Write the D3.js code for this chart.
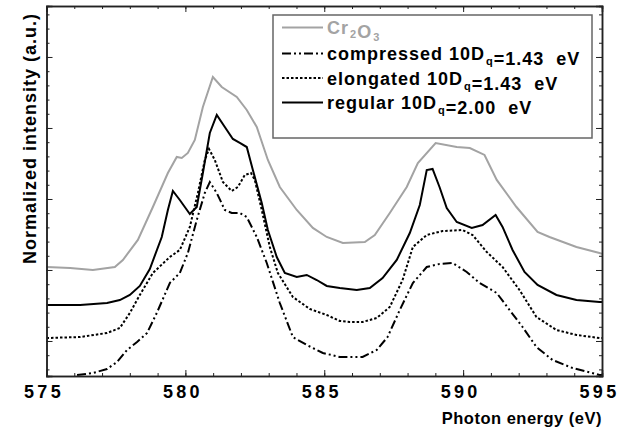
<!DOCTYPE html>
<html>
<head>
<meta charset="utf-8">
<script src="https://cdn.jsdelivr.net/npm/d3@7"></script>
<style>
  body { margin:0; background:#fff; }
  text { font-family:"Liberation Sans", Arial, sans-serif; font-weight:bold; }
</style>
</head>
<body>
<div id="chart"></div>
<script>
const margin = {'top':6,'right':27,'bottom':56,'left':46.5};
const width = 629 - margin.left - margin.right;
const height = 432 - margin.top - margin.bottom;

// photon energy (eV) / normalized intensity
var cr2o3 = [[575.0,1.042],[575.85,1.028],[576.67,1.0],[577.46,1.042],[577.75,1.141],[578.29,1.423],
  [578.83,1.887],[579.37,2.366],[579.69,2.592],[579.87,2.577],[580.09,2.648],[580.34,2.831],[580.63,3.296],
  [580.99,3.718],[581.31,3.577],[581.85,3.437],[582.21,3.254],[582.57,3.014],[582.97,2.549],[583.40,2.169],
  [584.01,1.845],[584.59,1.592],[585.09,1.465],[585.67,1.380],[586.46,1.394],[586.82,1.493],[587.36,1.803],
  [587.97,2.169],[588.37,2.507],[589.01,2.789],[589.77,2.732],[590.24,2.718],[590.77,2.620],[591.21,2.268],
  [591.92,1.887],[592.68,1.535],[593.11,1.465],[594.08,1.324],[594.91,1.239],[595.0,1.23]];
var compressed = [[576.10,-0.479],[576.67,-0.451],[577.18,-0.394],[577.54,-0.296],[577.90,-0.127],[578.26,-0.014],
  [578.62,0.113],[578.97,0.394],[579.44,0.817],[579.80,0.958],[580.09,1.240],[580.41,1.704],[580.70,2.085],
  [580.88,2.239],[581.13,2.085],[581.42,1.845],[581.67,1.803],[581.96,1.803],[582.21,1.746],[582.57,1.465],
  [582.93,1.099],[583.40,0.535],[583.87,0.056],[584.37,-0.056],[584.95,-0.169],[585.56,-0.225],[585.81,-0.225],
  [586.38,-0.225],[586.89,-0.127],[587.28,0.056],[587.72,0.437],[588.19,0.817],[588.69,1.042],[589.15,1.085],
  [589.62,1.099],[590.13,0.972],[590.59,0.817],[591.21,0.676],[591.67,0.437],[592.14,0.197],[592.64,-0.085],
  [593.22,-0.268],[593.94,-0.380],[594.91,-0.479],[595.0,-0.479]];
var elongated = [[575.0,0.042],[576.21,0.056],[577.18,0.113],[577.64,0.183],[578.00,0.394],[578.36,0.648],
  [578.83,0.958],[579.44,1.183],[579.80,1.282],[580.16,1.606],[580.45,2.085],[580.70,2.549],[580.85,2.704],
  [581.06,2.549],[581.35,2.239],[581.67,2.113],[581.89,2.169],[582.14,2.338],[582.36,2.366],[582.50,2.268],
  [582.75,1.845],[583.04,1.324],[583.33,0.958],[583.87,0.620],[584.48,0.451],[585.09,0.366],[585.56,0.282],
  [585.92,0.268],[586.38,0.268],[586.89,0.324],[587.36,0.479],[587.82,0.859],[588.19,1.324],[588.69,1.493],
  [589.26,1.549],[589.98,1.563],[590.34,1.493],[590.85,1.254],[591.42,1.042],[592.03,0.718],[592.64,0.338],
  [593.36,0.155],[594.08,0.085],[594.91,0.042],[595.0,0.042]];
var regular = [[575.0,0.507],[576.21,0.507],[577.18,0.535],[577.64,0.577],[578.00,0.648],[578.36,0.775],
  [578.72,1.014],[579.15,1.465],[579.37,1.845],[579.55,2.113],[579.80,1.986],[580.16,1.789],[580.41,1.887],
  [580.63,2.366],[580.88,2.930],[581.13,3.183],[581.42,3.014],[581.71,2.845],[581.96,2.789],[582.21,2.732],
  [582.43,2.408],[582.75,1.944],[582.97,1.563],[583.29,1.183],[583.58,0.958],[584.01,0.901],[584.37,0.930],
  [584.73,0.859],[585.09,0.775],[585.56,0.746],[586.17,0.718],[586.64,0.746],[587.10,0.887],[587.61,1.141],
  [588.08,1.521],[588.44,1.915],[588.69,2.408],[588.90,2.423],[589.15,2.169],[589.41,1.873],[589.77,1.676],
  [590.31,1.592],[590.70,1.634],[591.17,1.775],[591.42,1.606],[591.78,1.282],[592.21,0.972],[592.68,0.789],
  [593.36,0.648],[594.08,0.577],[594.91,0.549],[595.0,0.549]];

var xMajor = [575,580,585,590,595];
var xMinor = d3.range(575,596,1);
var yMajor = [0,1,2,3,4];
var yMinor = d3.range(-0.4,4.7,0.2);

var series = [
  {'name':'cr','data':cr2o3,'color':'#a3a3a3','dash':null},
  {'name':'compressed','data':compressed,'color':'#000','dash':'9,3,2,3,2,3'},
  {'name':'elongated','data':elongated,'color':'#000','dash':'2.5,2'},
  {'name':'regular','data':regular,'color':'#000','dash':null}
];

var svg = d3.select('#chart')
  .append('svg')
  .attr('width',629)
  .attr('height',432)
  .append('g')
  .attr('transform',`translate(${margin.left},${margin.top})`);

var x = d3.scaleLinear().domain([575,595]).range([0,width]);
var y = d3.scaleLinear().domain([-0.493,4.718]).range([height,0]);

svg.append('clipPath').attr('id','clip')
  .append('rect').attr('width',width).attr('height',height);

var line = d3.line().x(d => x(d[0])).y(d => y(d[1]));

svg.append('g').attr('clip-path','url(#clip)')
  .selectAll('path')
  .data(series)
  .enter()
  .append('path')
  .attr('d',d => line(d.data))
  .attr('fill','none')
  .attr('stroke',d => d.color)
  .attr('stroke-width',2)
  .attr('stroke-dasharray',d => d.dash);

// frame axes, ticks pointing inward
function tickAxis(axis, vals, size){
  return axis.tickValues(vals).tickSize(-size).tickFormat('');
}
svg.append('g').attr('transform',`translate(0,${height})`).call(tickAxis(d3.axisBottom(x),xMinor,3));
svg.append('g').call(tickAxis(d3.axisTop(x),xMinor,3));
svg.append('g').call(tickAxis(d3.axisTop(x),xMajor,6));
svg.append('g').call(tickAxis(d3.axisLeft(y),yMinor,3));
svg.append('g').call(tickAxis(d3.axisLeft(y),yMajor,6));
svg.append('g').attr('transform',`translate(${width},0)`).call(tickAxis(d3.axisRight(y),yMinor,3));
svg.append('g').attr('transform',`translate(${width},0)`).call(tickAxis(d3.axisRight(y),yMajor,6));

svg.append('g')
  .attr('class','xlabels')
  .attr('transform',`translate(0,${height})`)
  .call(d3.axisBottom(x).tickValues(xMajor).tickSize(-6).tickPadding(9).tickFormat(d3.format('d')))
  .selectAll('text')
  .attr('font-size',18)
  .attr('letter-spacing',3.3)
  .attr('dx',-3)
  .attr('fill','#000');

svg.selectAll('.domain').attr('stroke','#222').attr('stroke-width',1.5);
svg.selectAll('.tick line').attr('stroke','#222');

svg.append('text')
  .attr('x',width)
  .attr('y',height+48)
  .attr('text-anchor','end')
  .attr('font-size',16.5)
  .attr('letter-spacing',0.5)
  .text('Photon energy (eV)');

svg.append('text')
  .attr('transform',`translate(${36-margin.left},${13-margin.top}) rotate(-90)`)
  .attr('text-anchor','end')
  .attr('font-size',18)
  .attr('letter-spacing',1)
  .text('Normalized intensity (a.u.)');

// legend
var legendRows = [
  {'s':series[0],'parts':[['Cr',0],['2',1],['O',0],['3',1]],'color':'#a3a3a3'},
  {'s':series[1],'parts':[['compressed 10D',0],['q',1],['=1.43  eV',0]],'color':'#000'},
  {'s':series[2],'parts':[['elongated 10D',0],['q',1],['=1.43  eV',0]],'color':'#000'},
  {'s':series[3],'parts':[['regular 10D',0],['q',1],['=2.00  eV',0]],'color':'#000'}
];
var legend = svg.append('g').attr('transform',`translate(${273-margin.left},${15-margin.top})`);
legend.append('rect')
  .attr('width',319).attr('height',123)
  .attr('fill','#fff').attr('stroke','#666').attr('stroke-width',1.5);

legendRows.forEach(function(r,i){
  var cy = i == 0 ? 12.5 : 14 + i*24.5;
  var sub = i == 0 ? 3.5 : 5;
  legend.append('line')
    .attr('x1',9).attr('x2',50).attr('y1',cy).attr('y2',cy)
    .attr('stroke',r.s.color).attr('stroke-width',2)
    .attr('stroke-dasharray',r.s.dash);
  var t = legend.append('text')
    .attr('x',54).attr('y',cy+6.5)
    .attr('font-size',18)
    .attr('letter-spacing',1)
    .attr('fill',r.color)
    .attr('xml:space','preserve');
  r.parts.forEach(function(p){
    t.append('tspan')
      .attr('font-size',p[1] ? 11 : 18)
      .attr('dy',p[1] ? sub : null)
      .attr('dx',p[1] ? 1 : null)
      .text(p[0]);
    if(p[1]) t.append('tspan').attr('dy',-sub).text('');
  });
});
</script>
</body>
</html>
